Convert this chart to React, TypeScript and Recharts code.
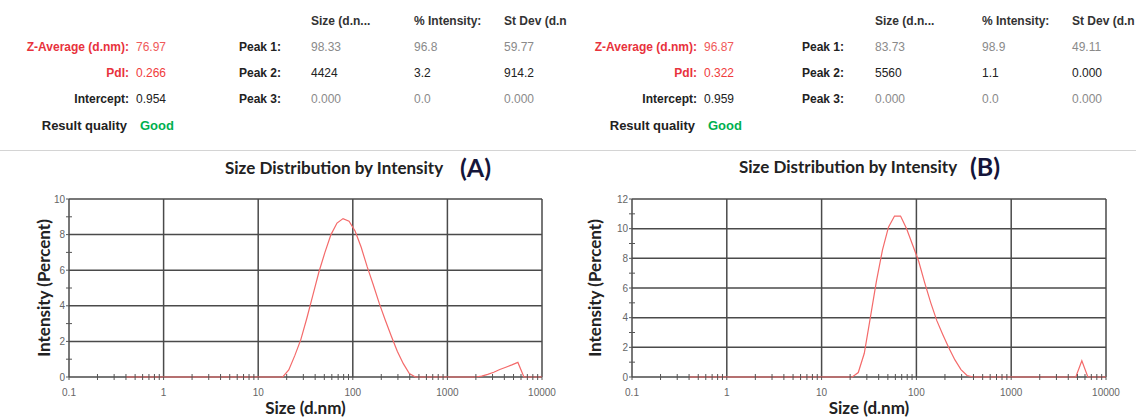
import React from "react";
import { LineChart, Line, XAxis, YAxis, CartesianGrid } from "recharts";

// Zetasizer size classes (d.nm)
const SIZE_NM = [
  0.4, 0.4632, 0.5365, 0.6213, 0.7195, 0.8332, 0.9649, 1.117, 1.294, 1.499,
  1.736, 2.01, 2.328, 2.696, 3.122, 3.615, 4.187, 4.849, 5.615, 6.503,
  7.531, 8.721, 10.1, 11.7, 13.54, 15.69, 18.17, 21.04, 24.36, 28.21,
  32.67, 37.84, 43.82, 50.75, 58.77, 68.06, 78.82, 91.28, 105.7, 122.4,
  141.8, 164.2, 190.1, 220.2, 255, 295.3, 342, 396.1, 458.7, 531.2,
  615.1, 712.4, 825, 955.4, 1106, 1281, 1484, 1718, 1990, 2305,
  2669, 3091, 3580, 4145, 4801, 5560, 6439, 7456, 8635, 10000,
];

// Intensity (%) per size class, sample A
const INTENSITY_A = [
  0, 0, 0, 0, 0, 0, 0, 0, 0, 0,
  0, 0, 0, 0, 0, 0, 0, 0, 0, 0,
  0, 0, 0, 0, 0, 0, 0, 0.4, 1.2, 2.1,
  3.3, 4.6, 5.9, 7.0, 8.0, 8.65, 8.9, 8.75, 8.2, 7.3,
  6.2, 5.2, 4.15, 3.2, 2.3, 1.45, 0.75, 0.2, 0, 0,
  0, 0, 0, 0, 0, 0, 0, 0, 0, 0.05,
  0.15, 0.27, 0.42, 0.55, 0.68, 0.82, 0, 0, 0, 0,
];

// Intensity (%) per size class, sample B
const INTENSITY_B = [
  0, 0, 0, 0, 0, 0, 0, 0, 0, 0,
  0, 0, 0, 0, 0, 0, 0, 0, 0, 0,
  0, 0, 0, 0, 0, 0, 0, 0, 0.3, 1.6,
  4.0, 6.45, 8.55, 10.1, 10.85, 10.85, 10.0, 8.9, 7.8, 6.35,
  5.0, 3.8, 2.85, 1.95, 1.15, 0.5, 0.1, 0, 0, 0,
  0, 0, 0, 0, 0, 0, 0, 0, 0, 0,
  0, 0, 0, 0, 0, 1.1, 0, 0, 0, 0,
];

const X_TICKS = [0.1, 1, 10, 100, 1000, 10000];
const X_MINOR = [
  0.2, 0.3, 0.4, 0.5, 0.6, 0.7, 0.8, 0.9,
  2, 3, 4, 5, 6, 7, 8, 9,
  20, 30, 40, 50, 60, 70, 80, 90,
  200, 300, 400, 500, 600, 700, 800, 900,
  2000, 3000, 4000, 5000, 6000, 7000, 8000, 9000,
];
const Y_TICKS_A = [0, 2, 4, 6, 8, 10];
const Y_MINOR_A = [1, 3, 5, 7, 9];
const Y_TICKS_B = [0, 2, 4, 6, 8, 10, 12];
const Y_MINOR_B = [1, 3, 5, 7, 9, 11];

const PEAK_LABELS = ["Peak 1:", "Peak 2:", "Peak 3:"];
const PEAK_SIZE_A = ["98.33", "4424", "0.000"];
const PEAK_INT_A = ["96.8", "3.2", "0.0"];
const PEAK_SD_A = ["59.77", "914.2", "0.000"];
const PEAK_SIZE_B = ["83.73", "5560", "0.000"];
const PEAK_INT_B = ["98.9", "1.1", "0.0"];
const PEAK_SD_B = ["49.11", "0.000", "0.000"];

const SANS = "'Liberation Sans', Arial, sans-serif";
const CAL = "Lato, 'Open Sans', sans-serif";
const ROW_Y = [21, 47, 73, 99, 125];
const PEAK_COLORS = ["#8a8a8a", "#222", "#8a8a8a"];

function Txt({ x, y, anchor = "start", color = "#222", bold = false, size = 12, children }: any) {
  return (
    <div
      style={{
        position: "absolute",
        left: x,
        top: y,
        transform: `translate(${anchor === "end" ? "-100%" : "0"}, -50%)`,
        whiteSpace: "nowrap",
        fontFamily: SANS,
        fontSize: size,
        fontWeight: bold ? 700 : 400,
        color,
        lineHeight: 1,
      }}
    >
      {children}
    </div>
  );
}

function Header({ lab, val, peakX, colX, z, pdi, icpt, sizes, ints, sds }: any) {
  return (
    <>
      <Txt x={colX[0]} y={ROW_Y[0]} bold color="#333">Size (d.n...</Txt>
      <Txt x={colX[1]} y={ROW_Y[0]} bold color="#333">% Intensity:</Txt>
      <Txt x={colX[2]} y={ROW_Y[0]} bold color="#333">St Dev (d.n</Txt>
      <Txt x={lab} y={ROW_Y[1]} anchor="end" bold color="#e8323c">Z-Average (d.nm):</Txt>
      <Txt x={val} y={ROW_Y[1]} color="#f05a5a">{z}</Txt>
      <Txt x={lab} y={ROW_Y[2]} anchor="end" bold color="#e8323c">PdI:</Txt>
      <Txt x={val} y={ROW_Y[2]} color="#f03c3c">{pdi}</Txt>
      <Txt x={lab} y={ROW_Y[3]} anchor="end" bold>Intercept:</Txt>
      <Txt x={val} y={ROW_Y[3]}>{icpt}</Txt>
      <Txt x={lab - 2} y={ROW_Y[4]} anchor="end" bold size={13}>Result quality</Txt>
      <Txt x={val + 4} y={ROW_Y[4]} bold color="#00b050" size={13}>Good</Txt>
      {PEAK_LABELS.map((p, i) => (
        <React.Fragment key={p}>
          <Txt x={peakX} y={ROW_Y[i + 1]} bold>{p}</Txt>
          <Txt x={colX[0]} y={ROW_Y[i + 1]} color={PEAK_COLORS[i]}>{sizes[i]}</Txt>
          <Txt x={colX[1]} y={ROW_Y[i + 1]} color={PEAK_COLORS[i]}>{ints[i]}</Txt>
          <Txt x={colX[2]} y={ROW_Y[i + 1]} color={PEAK_COLORS[i]}>{sds[i]}</Txt>
        </React.Fragment>
      ))}
    </>
  );
}

const tickStyle = { fontSize: 10, fill: "#666", fontFamily: SANS };

function XTick({ x, y, payload }: any) {
  const major = X_TICKS.includes(payload.value);
  return (
    <g>
      <line x1={x} x2={x} y1={major ? y : y - 3} y2={y + 3} stroke="#555" strokeWidth={1} />
      {major && (
        <text x={x} y={y + 19} textAnchor="middle" {...tickStyle}>
          {payload.value}
        </text>
      )}
    </g>
  );
}

function makeYTick(majors: number[]) {
  return function YTick({ x, y, payload }: any) {
    const major = majors.includes(payload.value);
    return (
      <g>
        <line x1={x - 3} x2={major ? x : x + 3} y1={y} y2={y} stroke="#555" strokeWidth={1} />
        {major && (
          <text x={x - 4} y={y} dy="0.35em" textAnchor="end" {...tickStyle}>
            {payload.value}
          </text>
        )}
      </g>
    );
  };
}

function SizeChart({ left, width, values, yMax, yTicks, yMinor, yLabelX }: any) {
  const data = SIZE_NM.map((s, i) => ({ size: s, intensity: values[i] }));
  const xAll = [...X_TICKS, ...X_MINOR].sort((a, b) => a - b);
  const yAll = [...yTicks, ...yMinor].sort((a, b) => a - b);
  const YTick = makeYTick(yTicks);
  return (
    <div style={{ position: "absolute", left, top: 150 }}>
      <LineChart width={width} height={268} data={data} margin={{ top: 49, right: 28, bottom: 0, left: 0 }}>
        <CartesianGrid
          stroke="#4a4a4a"
          strokeWidth={1.5}
          verticalValues={X_TICKS}
          horizontalValues={yTicks}
        />
        <XAxis
          dataKey="size"
          type="number"
          scale="log"
          domain={[0.1, 10000]}
          allowDataOverflow
          ticks={xAll}
          interval={0}
          height={41}
          axisLine={false}
          tickLine={false}
          tickSize={0}
          tickMargin={0}
          tick={<XTick />}
          label={{
            value: "Size (d.nm)",
            position: "insideBottom",
            offset: 4,
            style: { fontFamily: CAL, fontWeight: 700, fontSize: 17, fill: "#222" },
          }}
        />
        <YAxis
          type="number"
          domain={[0, yMax]}
          ticks={yAll}
          interval={0}
          width={69}
          axisLine={false}
          tickLine={false}
          tickSize={0}
          tickMargin={0}
          tick={<YTick />}
          label={{
            value: "Intensity (Percent)",
            angle: -90,
            position: "insideLeft",
            offset: yLabelX,
            style: { textAnchor: "middle", fontFamily: CAL, fontWeight: 700, fontSize: 17, fill: "#222" },
          }}
        />
        <Line
          type="linear"
          dataKey="intensity"
          stroke="#f46a6a"
          strokeWidth={1.2}
          dot={false}
          isAnimationActive={false}
        />
      </LineChart>
    </div>
  );
}

function Title({ x, y, tag, tagX }: any) {
  return (
    <>
      <div style={{ position: "absolute", left: x, top: y, transform: "translateY(-50%)", fontFamily: CAL, fontWeight: 700, fontSize: 17, color: "#222", whiteSpace: "nowrap", lineHeight: 1 }}>
        Size Distribution by Intensity
      </div>
      <div style={{ position: "absolute", left: tagX, top: y, transform: "translateY(-50%)", fontFamily: CAL, fontWeight: 700, fontSize: 25, color: "#15153a", whiteSpace: "nowrap", lineHeight: 1 }}>
        {tag}
      </div>
    </>
  );
}

export default function App() {
  return (
    <div style={{ position: "absolute", left: 0, top: 0, width: 1146, height: 418, background: "#fff", overflow: "hidden" }}>
      <Header
        lab={129}
        val={136}
        peakX={239}
        colX={[311, 414, 504]}
        z="76.97"
        pdi="0.266"
        icpt="0.954"
        sizes={PEAK_SIZE_A}
        ints={PEAK_INT_A}
        sds={PEAK_SD_A}
      />
      <div style={{ position: "absolute", left: 570, top: 0 }}>
        <Header
          lab={127}
          val={134}
          peakX={232}
          colX={[305, 412, 502]}
          z="96.87"
          pdi="0.322"
          icpt="0.959"
          sizes={PEAK_SIZE_B}
          ints={PEAK_INT_B}
          sds={PEAK_SD_B}
        />
      </div>
      <div style={{ position: "absolute", left: 0, top: 150, width: 1136, height: 1, background: "#d4d4d4" }} />
      <Title x={225} y={167} tag="(A)" tagX={460} />
      <Title x={739} y={166} tag="(B)" tagX={970} />
      <SizeChart left={0} width={570} values={INTENSITY_A} yMax={10} yTicks={Y_TICKS_A} yMinor={Y_MINOR_A} yLabelX={44} />
      <SizeChart left={563} width={571} values={INTENSITY_B} yMax={12} yTicks={Y_TICKS_B} yMinor={Y_MINOR_B} yLabelX={32} />
    </div>
  );
}
